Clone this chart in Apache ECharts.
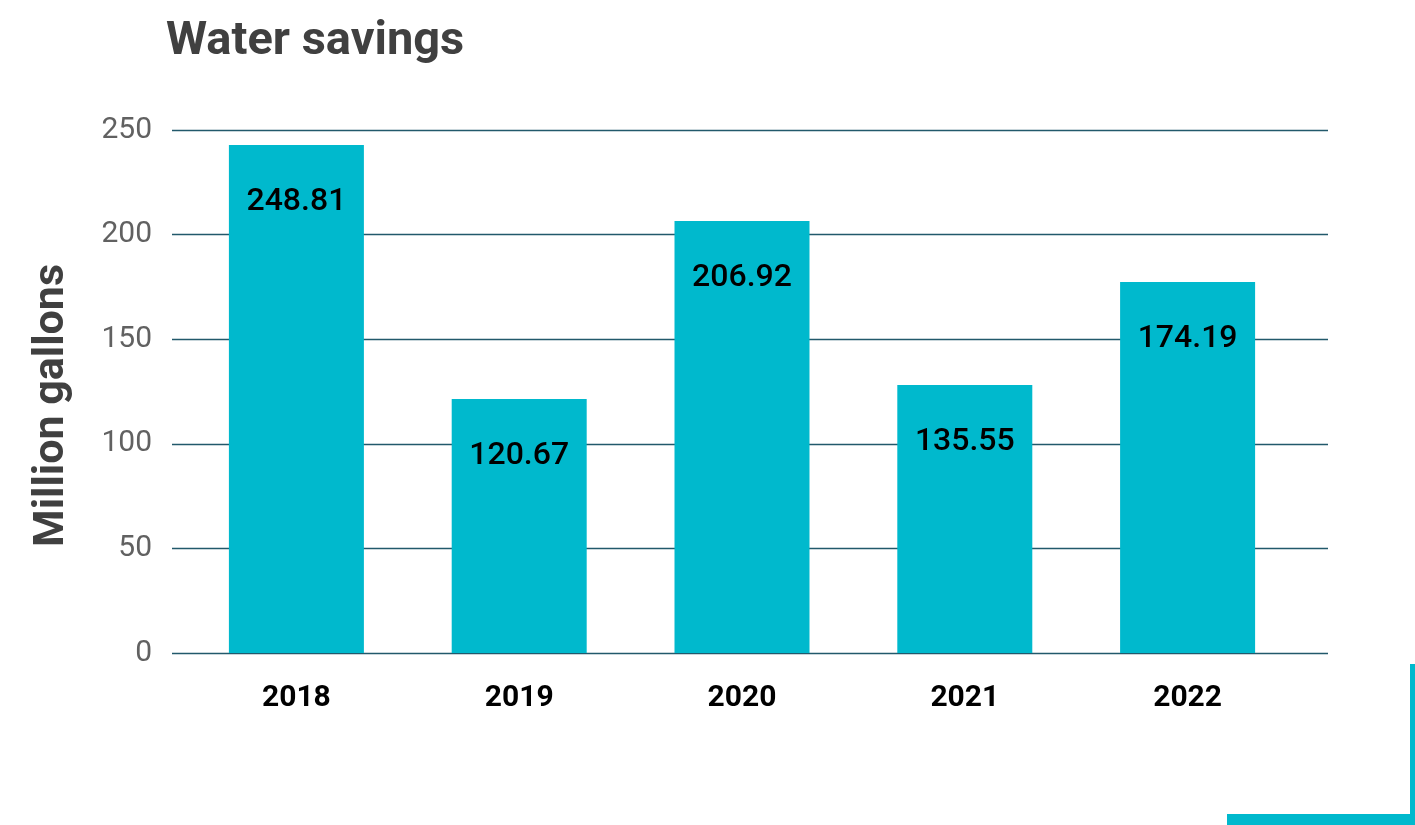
<!DOCTYPE html>
<html>
<head>
<meta charset="utf-8">
<title>Water savings</title>
<script src="https://cdn.jsdelivr.net/npm/echarts@6/dist/echarts.min.js"></script>
<style>
  html, body { margin: 0; padding: 0; background: #fff; }
  #chart { width: 1415px; height: 825px; }
</style>
</head>
<body>
<div id="chart"></div>
<script>
// years on the x axis
const years = ['2018', '2019', '2020', '2021', '2022'];
// bar heights as drawn in the picture (million gallons)
const barValues = [242.8, 121.4, 206.5, 128.1, 177.3];
// labels printed on the bars
const barLabels = ['248.81', '120.67', '206.92', '135.55', '174.19'];
// y axis ticks
const yTicks = [0, 50, 100, 150, 200, 250];

const chart = echarts.init(document.getElementById('chart'));
const lineColor = '#22596b';

chart.setOption({
  backgroundColor: '#fff',
  textStyle: { fontFamily: 'Roboto' },
  title: {
    text: 'Water savings',
    left: 161,
    top: 14,
    textStyle: { fontSize: 47, fontWeight: 'bold', color: '#404040', fontFamily: 'Roboto' }
  },
  grid: [
    // gridlines and y labels span the wide area
    { left: 172, right: 87, top: 130, bottom: 172 },
    // bars sit in a slightly narrower band
    { left: 185, right: 116, top: 130, bottom: 172 }
  ],
  xAxis: [
    { gridIndex: 0, type: 'category', data: years, show: false },
    {
      gridIndex: 1,
      type: 'category',
      data: years,
      axisLine: { show: false },
      axisTick: { show: false },
      axisLabel: { fontSize: 30, fontWeight: 'bold', color: '#000', margin: 30 }
    }
  ],
  yAxis: [
    {
      gridIndex: 0,
      type: 'value',
      min: yTicks[0],
      max: yTicks[yTicks.length - 1],
      interval: 50,
      name: 'Million gallons',
      nameLocation: 'middle',
      nameGap: 98,
      nameTextStyle: { fontSize: 43, fontWeight: 'bold', color: '#404040', padding: [0, 28, 0, 0] },
      axisLine: { show: false },
      axisTick: { show: false },
      axisLabel: { fontSize: 30, color: '#616161', margin: 20 },
      splitLine: { lineStyle: { color: lineColor, width: 1.3 } }
    },
    {
      gridIndex: 1,
      type: 'value',
      min: yTicks[0],
      max: yTicks[yTicks.length - 1],
      interval: 50,
      show: false
    }
  ],
  series: [{
    type: 'bar',
    xAxisIndex: 1,
    yAxisIndex: 1,
    data: barValues,
    barWidth: 135,
    itemStyle: { color: '#00b9cd' },
    label: {
      show: true,
      position: 'insideTop',
      distance: 41,
      fontSize: 32,
      fontWeight: 500,
      color: '#000',
      formatter: p => barLabels[p.dataIndex]
    },
    silent: true
  }],
  graphic: [
    { type: 'rect', shape: { x: 1410, y: 664, width: 5, height: 161 }, style: { fill: '#00b9cd' } },
    { type: 'rect', shape: { x: 1227, y: 814, width: 188, height: 11 }, style: { fill: '#00b9cd' } }
  ]
});
</script>
</body>
</html>
